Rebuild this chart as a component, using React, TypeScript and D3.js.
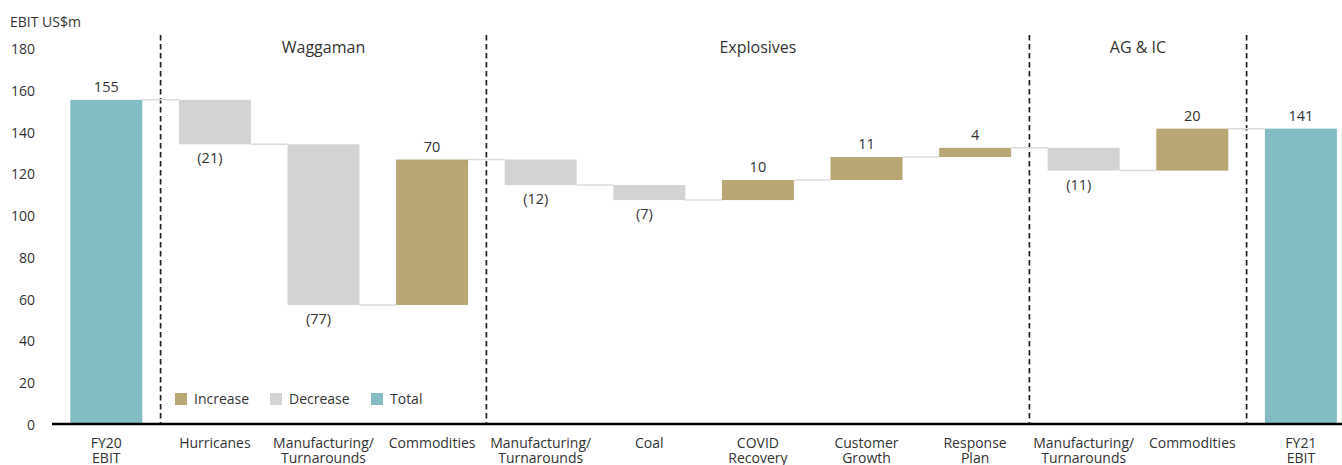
import React from "react";
import * as d3 from "d3";

const categories: string[][] = [
  ["FY20", "EBIT"],
  ["Hurricanes"],
  ["Manufacturing/", "Turnarounds"],
  ["Commodities"],
  ["Manufacturing/", "Turnarounds"],
  ["Coal"],
  ["COVID", "Recovery"],
  ["Customer", "Growth"],
  ["Response", "Plan"],
  ["Manufacturing/", "Turnarounds"],
  ["Commodities"],
  ["FY21", "EBIT"],
];
// value of each step (total bars hold absolute values)
const values: number[] = [155.2, -21.3, -76.9, 69.6, -12.2, -7.2, 9.6, 11.0, 4.4, -10.9, 20.1, 141.4];
const kinds: string[] = ["total", "delta", "delta", "delta", "delta", "delta", "delta", "delta", "delta", "delta", "delta", "total"];
const yTicks: number[] = [0, 20, 40, 60, 80, 100, 120, 140, 160, 180];
const groupNames: string[] = ["Waggaman", "Explosives", "AG & IC"];
const groupStart: number[] = [1, 4, 9];
const groupEnd: number[] = [3, 8, 10];
const legendNames: string[] = ["Increase", "Decrease", "Total"];

const COLORS: Record<string, string> = {
  Increase: "#b8a675",
  Decrease: "#d3d3d3",
  Total: "#83bcc3",
};
const FONT = "'Open Sans', 'Noto Sans', sans-serif";
const TEXT = "#333333";

export default function App() {
  const W = 1342, H = 465;
  const idx = categories.map((_, i) => String(i));
  const pad = 0.337;
  const x = d3.scaleBand<string>().domain(idx).range([52, 52 + 12 * 108.6]).paddingInner(pad).paddingOuter(pad / 2);
  const y = d3.scaleLinear().domain([0, 180]).range([424, 48]);
  const step = x.step();
  const bw = x.bandwidth();

  let run = 0;
  const bars = values.map((v, i) => {
    let lo: number, hi: number, type: string, after: number;
    if (kinds[i] === "total") {
      lo = 0; hi = v; type = "Total"; after = v;
    } else {
      const start = run;
      after = run + v;
      lo = Math.min(start, after); hi = Math.max(start, after);
      type = v >= 0 ? "Increase" : "Decrease";
    }
    run = after;
    const label = v < 0 ? `(${Math.round(Math.abs(v))})` : `${Math.round(v)}`;
    return { i, lo, hi, type, after, v, label };
  });

  const boundary = (i: number) => (x(String(i)) as number) - (step - bw) / 2;

  return (
    <svg width={W} height={H} style={{ position: "absolute", left: 0, top: 0, background: "#fff" }} fontFamily={FONT}>
      <text x={10} y={27} fontSize={14} fill={TEXT}>EBIT US$m</text>
      {yTicks.map((t) => (
        <text key={t} x={35} y={y(t) + 6} fontSize={14} fill={TEXT} textAnchor="end">{t}</text>
      ))}
      {groupStart.concat([11]).map((g) => (
        <line key={"d" + g} x1={boundary(g)} x2={boundary(g)} y1={35} y2={423} stroke="#222" strokeWidth={1.7} strokeDasharray="5.5,3.5" />
      ))}
      {groupNames.map((n, k) => {
        const cx = (boundary(groupStart[k]) + boundary(groupEnd[k] + 1)) / 2;
        return (
          <text key={n} x={cx} y={53} fontSize={16} fill={TEXT} textAnchor="middle">{n}</text>
        );
      })}
      {bars.slice(0, -1).map((b) => {
        const x1 = (x(String(b.i)) as number) + bw;
        const x2 = x(String(b.i + 1)) as number;
        return <line key={"c" + b.i} x1={x1} x2={x2} y1={y(b.after)} y2={y(b.after)} stroke="#dcdcdc" strokeWidth={1.5} />;
      })}
      {bars.map((b) => (
        <rect key={"b" + b.i} x={x(String(b.i))} y={y(b.hi)} width={bw} height={y(b.lo) - y(b.hi)} fill={COLORS[b.type]} />
      ))}
      {bars.map((b) => {
        const cx = (x(String(b.i)) as number) + bw / 2;
        const neg = b.type === "Decrease";
        return (
          <text key={"l" + b.i} x={neg ? cx - 5 : cx} y={neg ? y(b.lo) + 19 : y(b.hi) - 8} fontSize={14.5} fill={TEXT} textAnchor="middle">{b.label}</text>
        );
      })}
      <line x1={52} x2={W} y1={y(0)} y2={y(0)} stroke="#000" strokeWidth={2.5} />
      {categories.map((c, i) => {
        const cx = (x(String(i)) as number) + bw / 2;
        return (
          <text key={"x" + i} x={cx} y={448} fontSize={14} fill={TEXT} textAnchor="middle">
            {c.map((line, j) => (
              <tspan key={j} x={cx} dy={j === 0 ? 0 : 15}>{line}</tspan>
            ))}
          </text>
        );
      })}
      {legendNames.map((n, k) => {
        const lx = [175, 270, 371][k];
        return (
          <g key={n}>
            <rect x={lx} y={393} width={12} height={12} fill={COLORS[n]} />
            <text x={lx + 19} y={404} fontSize={14} fill={TEXT}>{n}</text>
          </g>
        );
      })}
    </svg>
  );
}
